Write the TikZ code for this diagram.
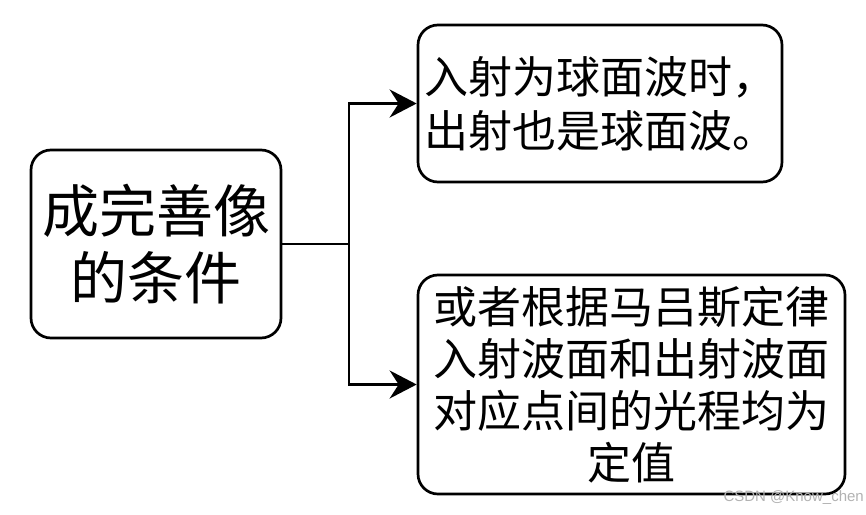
\documentclass[tikz,border=0pt]{standalone}
\usepackage{fontspec}
\newfontfamily\cjkfont{Noto Sans CJK SC}
\newfontfamily\markfont{Liberation Sans}
\usetikzlibrary{arrows.meta}
\tikzset{
  box/.style={draw, line width=2.7pt, rounded corners=20pt, inner sep=0pt},
  link/.style={line width=2.7pt, -{Stealth[length=27pt,width=28pt,inset=9pt]}}
}
\begin{document}
\begin{tikzpicture}[x=1pt,y=-1pt]
\useasboundingbox (0,0) rectangle (866,514);

\node[box, minimum width=250pt, minimum height=188pt, align=center, font=\cjkfont\fontsize{57}{67}\selectfont] (cond) at (156,244) {成完善像\\的条件};
\node[box, minimum width=364pt, minimum height=157pt, align=left, font=\cjkfont\fontsize{44}{54}\selectfont] (sphere) at (600,103.5) {入射为球面波时，\\出射也是球面波。};
\node[box, minimum width=427pt, minimum height=219pt, align=center, font=\cjkfont\fontsize{44}{52}\selectfont] (malus) at (631.5,384.5) {或者根据马吕斯定律\\入射波面和出射波面\\对应点间的光程均为\\定值};

\coordinate (split) at (349,244);
\draw[line width=2.7pt] (cond.east) -- (split);
\draw[link] (split) |- (sphere.west);
\draw[link] (split) |- (malus.west);

\node[text=gray!60, font=\markfont\fontsize{15}{15}\selectfont, anchor=east, inner sep=0pt] (mark) at (864,498) {CSDN @Know\_chen};
\end{tikzpicture}
\end{document}
